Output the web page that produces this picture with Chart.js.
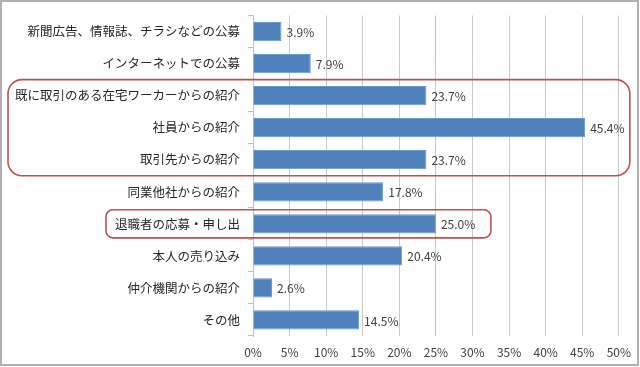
<!DOCTYPE html>
<html>
<head>
<meta charset="utf-8">
<script src="https://cdn.jsdelivr.net/npm/chart.js@4"></script>
<style>
html,body{margin:0;padding:0;background:#fff;}
canvas{display:block;}
</style>
</head>
<body>
<canvas id="c" width="640" height="367"></canvas>
<script>
const categories = [
  "新聞広告、情報誌、チラシなどの公募",
  "インターネットでの公募",
  "既に取引のある在宅ワーカーからの紹介",
  "社員からの紹介",
  "取引先からの紹介",
  "同業他社からの紹介",
  "退職者の応募・申し出",
  "本人の売り込み",
  "仲介機関からの紹介",
  "その他"
];
const values = [3.9, 7.9, 23.7, 45.4, 23.7, 17.8, 25.0, 20.4, 2.6, 14.5];
const xTicks = [0, 5, 10, 15, 20, 25, 30, 35, 40, 45, 50];
// highlighted category ranges (first index, last index)
const highlights = [[2, 4], [6, 6]];

const FONT = '"Noto Sans CJK JP", "Noto Sans", sans-serif';

const framePlugin = {
  id: 'frame',
  afterDraw(chart) {
    const ctx = chart.ctx;
    ctx.save();
    ctx.strokeStyle = '#b0b0b0';
    ctx.lineWidth = 2;
    ctx.strokeRect(1, 1, chart.width - 3, chart.height - 3);
    ctx.restore();
  }
};

const labelPlugin = {
  id: 'vals',
  afterDatasetsDraw(chart) {
    const ctx = chart.ctx;
    const meta = chart.getDatasetMeta(0);
    ctx.save();
    ctx.font = '12px ' + FONT;
    ctx.fillStyle = '#404040';
    ctx.textAlign = 'left';
    ctx.textBaseline = 'middle';
    meta.data.forEach((bar, i) => {
      ctx.fillText(values[i].toFixed(1) + '%', bar.x + 5, bar.y + 1);
    });
    ctx.restore();
  }
};

function roundRect(ctx, x, y, w, h, r) {
  ctx.beginPath();
  ctx.moveTo(x + r, y);
  ctx.lineTo(x + w - r, y);
  ctx.arcTo(x + w, y, x + w, y + r, r);
  ctx.lineTo(x + w, y + h - r);
  ctx.arcTo(x + w, y + h, x + w - r, y + h, r);
  ctx.lineTo(x + r, y + h);
  ctx.arcTo(x, y + h, x, y + h - r, r);
  ctx.lineTo(x, y + r);
  ctx.arcTo(x, y, x + r, y, r);
  ctx.closePath();
}

const highlightPlugin = {
  id: 'hl',
  afterDraw(chart) {
    const ctx = chart.ctx;
    const ys = chart.scales.y, xs = chart.scales.x;
    const step = ys.getPixelForValue(1) - ys.getPixelForValue(0);
    ctx.save();
    ctx.strokeStyle = '#C0504D';
    ctx.lineWidth = 1.6;
    // big box
    let [a, b] = highlights[0];
    let top = ys.getPixelForValue(a) - step / 2;
    let bot = ys.getPixelForValue(b) + step / 2;
    roundRect(ctx, 8, top, xs.getPixelForValue(50) + 11 - 8, bot - top, 14);
    ctx.stroke();
    // small box
    [a, b] = highlights[1];
    top = ys.getPixelForValue(a) - step / 2 + 2;
    bot = ys.getPixelForValue(b) + step / 2 - 2;
    const left = 106;
    const right = xs.getPixelForValue(values[a]) + 55;
    roundRect(ctx, left, top, right - left, bot - top, 7);
    ctx.stroke();
    ctx.restore();
  }
};

new Chart(document.getElementById('c'), {
  type: 'bar',
  data: {
    labels: categories,
    datasets: [{
      data: values,
      backgroundColor: '#4F81BD',
      borderColor: '#6a98d0',
      borderWidth: 1,
      barPercentage: 0.6,
      categoryPercentage: 1.0
    }]
  },
  options: {
    indexAxis: 'y',
    responsive: false,
    devicePixelRatio: 1,
    animation: false,
    layout: { padding: { top: 13, right: 19, bottom: 0, left: 0 } },
    plugins: { legend: { display: false }, tooltip: { enabled: false } },
    scales: {
      x: {
        min: 0, max: 50,
        afterBuildTicks(scale) { scale.ticks = xTicks.map(v => ({ value: v })); },
        afterFit(scale) { scale.height = 31; },
        grid: { color: '#c8c8c8', drawTicks: false, lineWidth: 1 },
        border: { display: false },
        ticks: {
          padding: 9,
          color: '#404040',
          font: { family: FONT, size: 12 },
          callback: v => v + '%'
        }
      },
      y: {
        afterFit(scale) { scale.width = 253; },
        grid: { drawOnChartArea: false, tickLength: 5, color: '#bfbfbf', offset: true },
        border: { display: true, color: '#bfbfbf' },
        ticks: {
          padding: 8,
          color: '#262626',
          font: { family: FONT, size: 12.5 },
          autoSkip: false
        }
      }
    }
  },
  plugins: [labelPlugin, highlightPlugin, framePlugin]
});
</script>
</body>
</html>
